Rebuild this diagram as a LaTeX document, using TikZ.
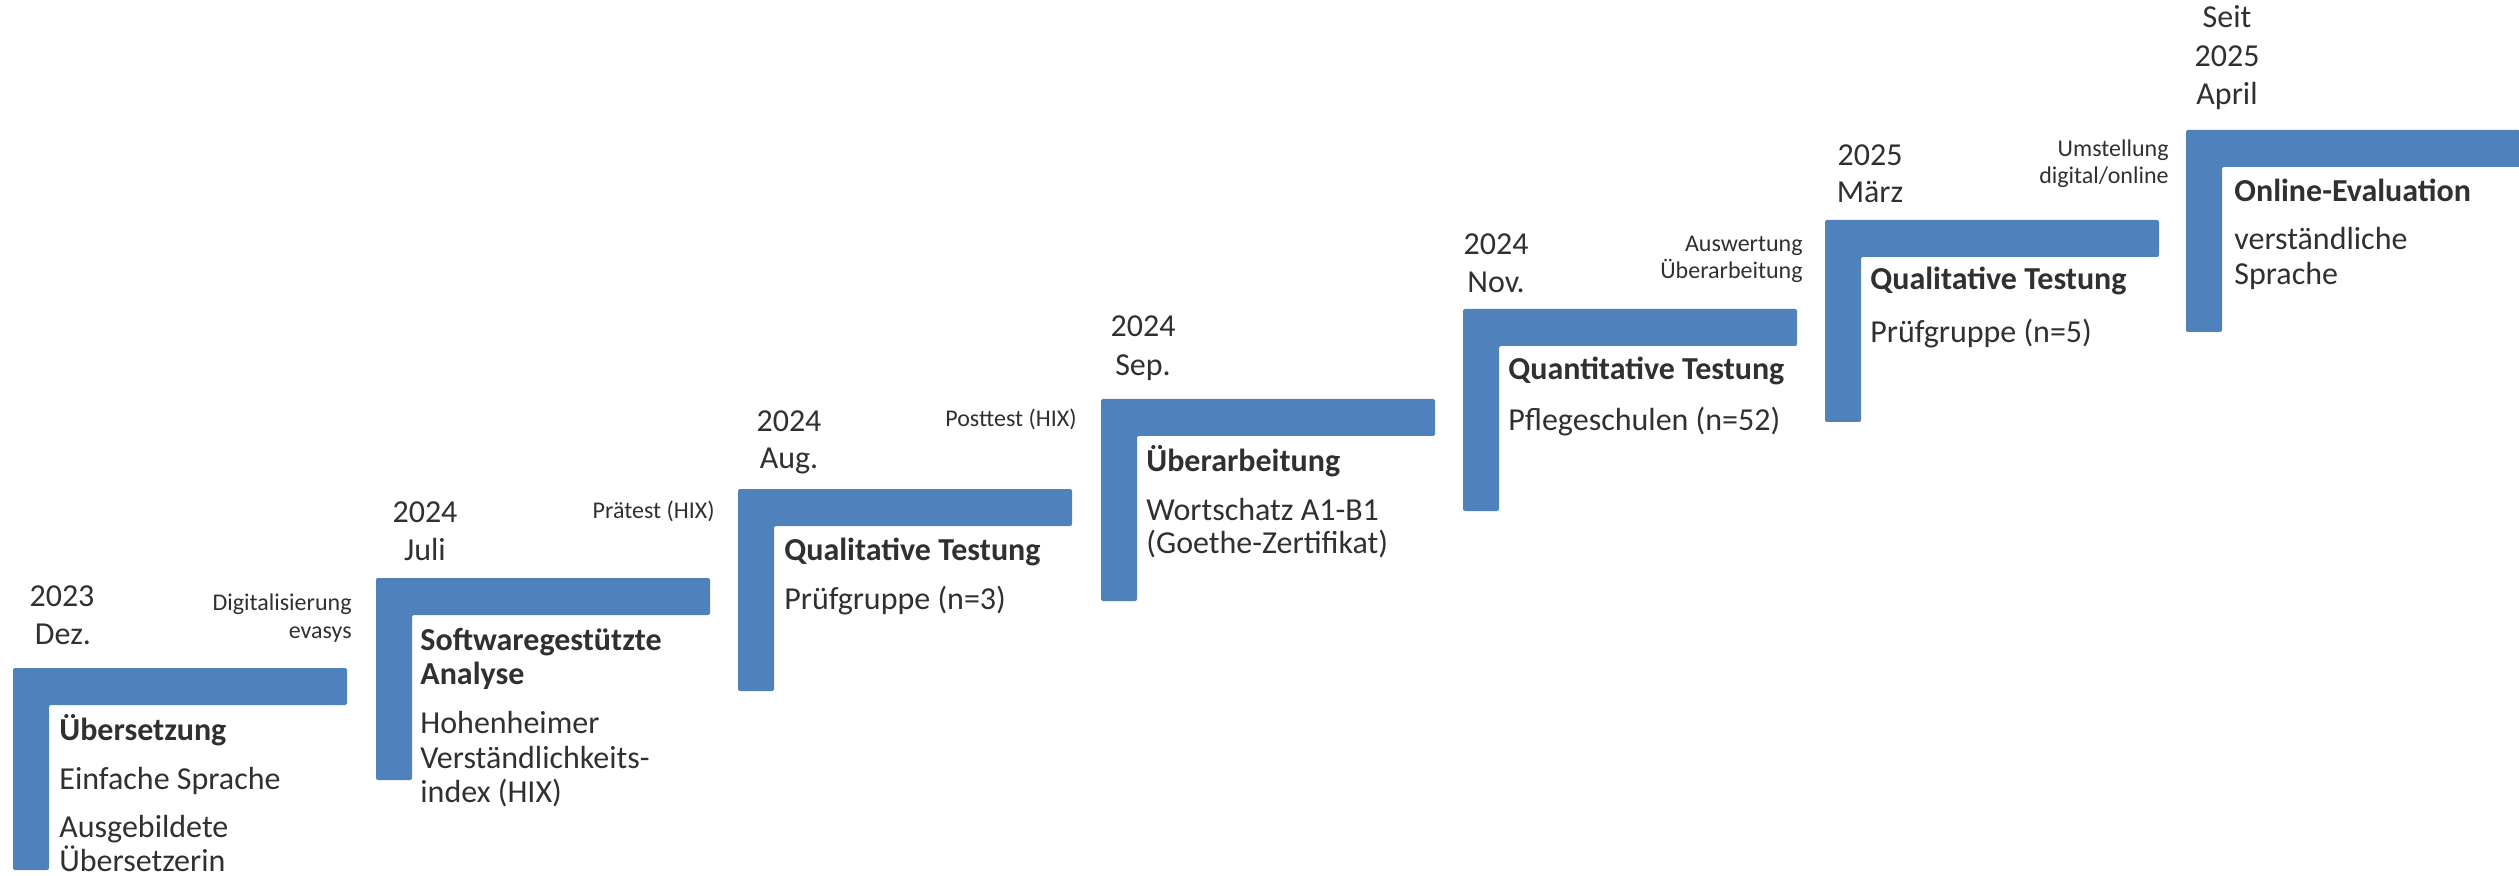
\documentclass[tikz,border=0pt]{standalone}
\usepackage{fontspec}
\setmainfont{Carlito}
\definecolor{barblue}{HTML}{4F81BD}
\definecolor{txt}{HTML}{303030}
\tikzset{
  lbar/.style={fill=barblue, draw=none, rounded corners=1pt},
  big/.style={font=\fontsize{16}{18}\selectfont, text=txt, inner sep=0pt},
  bigb/.style={font=\fontsize{16}{18}\selectfont\bfseries, text=txt, inner sep=0pt},
  small/.style={font=\fontsize{12}{14}\selectfont, text=txt, inner sep=0pt},
}
\newcommand\stairbar[2]{%
  \fill[lbar] (#1,#2) -- ({#1+334},#2) -- ({#1+334},{#2+37}) -- ({#1+36},{#2+37})
    -- ({#1+36},{#2+202}) -- (#1,{#2+202}) -- cycle;}
\begin{document}
\begin{tikzpicture}[x=0.5pt,y=-0.5pt]
\useasboundingbox (0,0) rectangle (2519,876);
% bars
\stairbar{13}{668}
\stairbar{376}{578}
\stairbar{738}{489}
\stairbar{1101}{399}
\stairbar{1463}{309}
\stairbar{1825}{220}
\stairbar{2186}{130}
% step 1
\node[big, anchor=base] (d1a) at (62,606) {2023};
\node[big, anchor=base] (d1b) at (63,644) {Dez.};
\node[small, anchor=base east] (s1a) at (352,610) {Digitalisierung};
\node[small, anchor=base east] (s1b) at (352,638) {evasys};
\node[bigb, anchor=base west] (t1) at (59,740) {Übersetzung};
\node[big, anchor=base west] (b1a) at (59,789) {Einfache Sprache};
\node[big, anchor=base west] (b1b) at (59,837) {Ausgebildete};
\node[big, anchor=base west] (b1c) at (59,871) {Übersetzerin};
% step 2
\node[big, anchor=base] (d2a) at (425,523) {2024};
\node[big, anchor=base] (d2b) at (425,560) {Juli};
\node[small, anchor=base east] (s2a) at (715,518) {Prätest (HIX)};
\node[bigb, anchor=base west] (t2a) at (420,650) {Softwaregestützte};
\node[bigb, anchor=base west] (t2b) at (420,684) {Analyse};
\node[big, anchor=base west] (b2a) at (420,733) {Hohenheimer};
\node[big, anchor=base west] (b2b) at (420,768) {Verständlichkeits-};
\node[big, anchor=base west] (b2c) at (420,802) {index (HIX)};
% step 3
\node[big, anchor=base] (d3a) at (789,432) {2024};
\node[big, anchor=base] (d3b) at (789,469) {Aug.};
\node[small, anchor=base east] (s3a) at (1077,427) {Posttest (HIX)};
\node[bigb, anchor=base west] (t3) at (784,560) {Qualitative Testung};
\node[big, anchor=base west] (b3) at (784,609) {Prüfgruppe (n=3)};
% step 4
\node[big, anchor=base] (d4a) at (1143,337) {2024};
\node[big, anchor=base] (d4b) at (1143,376) {Sep.};
\node[bigb, anchor=base west] (t4) at (1146,472) {Überarbeitung};
\node[big, anchor=base west] (b4a) at (1146,520) {Wortschatz A1-B1};
\node[big, anchor=base west] (b4b) at (1146,553) {(Goethe-Zertifikat)};
% step 5
\node[big, anchor=base] (d5a) at (1496,255) {2024};
\node[big, anchor=base] (d5b) at (1496,293) {Nov.};
\node[small, anchor=base east] (s5a) at (1803,252) {Auswertung};
\node[small, anchor=base east] (s5b) at (1803,279) {Überarbeitung};
\node[bigb, anchor=base west] (t5) at (1508,380) {Quantitative Testung};
\node[big, anchor=base west] (b5) at (1508,430) {Pflegeschulen (n=52)};
% step 6
\node[big, anchor=base] (d6a) at (1870,166) {2025};
\node[big, anchor=base] (d6b) at (1870,203) {März};
\node[small, anchor=base east] (s6a) at (2169,157) {Umstellung};
\node[small, anchor=base east] (s6b) at (2169,184) {digital/online};
\node[bigb, anchor=base west] (t6) at (1870,290) {Qualitative Testung};
\node[big, anchor=base west] (b6) at (1870,343) {Prüfgruppe (n=5)};
% step 7
\node[big, anchor=base] (d7a) at (2227,28) {Seit};
\node[big, anchor=base] (d7b) at (2227,67) {2025};
\node[big, anchor=base] (d7c) at (2227,105) {April};
\node[bigb, anchor=base west] (t7) at (2234,202) {Online-Evaluation};
\node[big, anchor=base west] (b7a) at (2234,250) {verständliche};
\node[big, anchor=base west] (b7b) at (2234,285) {Sprache};
\end{tikzpicture}
\end{document}
